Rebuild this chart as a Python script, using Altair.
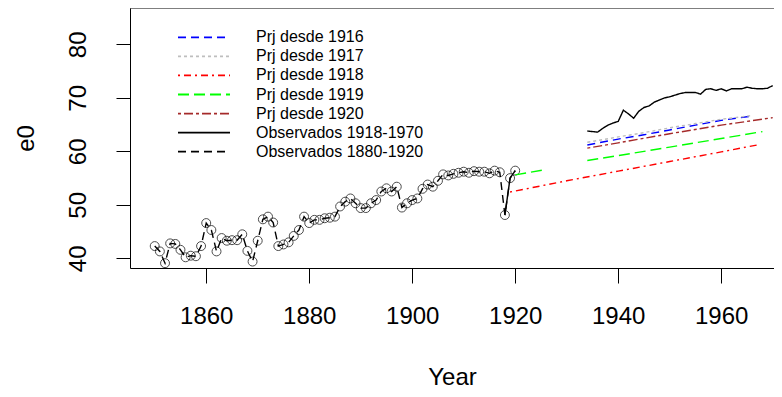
import altair as alt
import pandas as pd

FONT = "Liberation Sans, Arial, sans-serif"

# ---- data ----
obs_years = list(range(1850, 1921))
obs_e0 = [42.3, 41.3, 39.1, 42.8, 42.7, 41.6, 40.2, 40.5, 40.4, 42.3,
          46.6, 45.3, 41.3, 43.8, 43.3, 43.4, 43.4, 44.5, 41.4, 39.4,
          43.3, 47.3, 47.8, 46.7, 42.3, 42.6, 43.0, 44.2, 45.3, 47.8,
          46.6, 47.2, 47.2, 47.5, 47.6, 47.8, 49.7, 50.6, 51.2, 50.3,
          49.4, 49.4, 50.3, 50.9, 52.5, 53.1, 52.5, 53.4, 49.5, 50.3,
          50.9, 51.2, 53.0, 53.8, 53.4, 54.5, 55.7, 55.5, 55.8, 56.0,
          56.2, 56.0, 56.3, 56.2, 56.2, 55.9, 56.4, 56.1, 48.1, 55.0,
          56.4]

obs2_years_a = [1918, 1919, 1920]
obs2_e0_a = [48.1, 55.0, 56.4]
obs2_years_b = list(range(1934, 1971))
obs2_e0_b = [63.8, 63.7, 63.6, 64.3, 64.9, 65.3, 65.6, 67.7, 67.0, 66.2,
             67.5, 68.2, 68.5, 69.2, 69.6, 70.0, 70.2, 70.5, 70.8, 71.0,
             71.0, 71.0, 70.7, 71.6, 71.7, 71.4, 71.7, 71.3, 71.7, 71.7,
             71.7, 72.0, 71.8, 71.7, 71.7, 71.8, 72.3]

p1916_years = [1934, 1940, 1945, 1950, 1955, 1960, 1966]
p1916_e0 = [61.2, 62.3, 63.1, 64.0, 64.9, 65.8, 66.6]
p1917_years = [1934, 1940, 1945, 1950, 1955, 1960, 1966]
p1917_e0 = [61.7, 62.7, 63.5, 64.4, 65.2, 66.0, 66.7]
p1918_years = [1919, 1930, 1940, 1950, 1960, 1967]
p1918_e0 = [52.4, 54.5, 56.3, 58.1, 59.9, 61.2]
p1919_years_a = [1920, 1926]
p1919_e0_a = [55.6, 56.6]
p1919_years_b = [1934, 1940, 1950, 1960, 1968]
p1919_e0_b = [58.3, 59.2, 60.8, 62.4, 63.7]
p1920_years = [1934, 1940, 1950, 1960, 1970]
p1920_e0 = [60.6, 61.6, 63.3, 64.9, 66.3]

series_names = ["Prj desde 1916", "Prj desde 1917", "Prj desde 1918",
                "Prj desde 1919", "Prj desde 1920",
                "Observados 1918-1970", "Observados 1880-1920"]
series_colors = ["#0000FF", "#BEBEBE", "#FF0000", "#00FF00", "#A52A2A",
                 "#000000", "#000000"]
series_dashes = [[8, 5], [3, 3], [2, 4, 7, 4], [11, 5], [3, 3, 9, 3],
                 [1, 0], [8, 5]]

x_ticks = [1860, 1880, 1900, 1920, 1940, 1960]
y_ticks = [40, 50, 60, 70, 80]

# ---- long table ----
rows = []
def add(name, seg, years, vals):
    for yr, v in zip(years, vals):
        rows.append({"series": name, "seg": name + str(seg), "year": yr, "value": v})

add(series_names[0], 0, p1916_years, p1916_e0)
add(series_names[1], 0, p1917_years, p1917_e0)
add(series_names[2], 0, p1918_years, p1918_e0)
add(series_names[3], 0, p1919_years_a, p1919_e0_a)
add(series_names[3], 1, p1919_years_b, p1919_e0_b)
add(series_names[4], 0, p1920_years, p1920_e0)
add(series_names[5], 0, obs2_years_a, obs2_e0_a)
add(series_names[5], 1, obs2_years_b, obs2_e0_b)
add(series_names[6], 0, obs_years, obs_e0)
df_lines = pd.DataFrame(rows)
df_pts = pd.DataFrame({"year": obs_years, "value": obs_e0})

W, H = 644, 260
xscale = alt.Scale(domain=[1845.2, 1970.25], nice=False, zero=False)
yscale = alt.Scale(domain=[38.2, 86.8], nice=False, zero=False)

xaxis = alt.Axis(values=x_ticks, title="Year", format="d", grid=False,
                 labelFont=FONT, titleFont=FONT, labelFontSize=24, titleFontSize=24,
                 titleFontWeight="normal", labelColor="black", titleColor="black",
                 domainColor="black", tickColor="black", tickSize=15, labelPadding=21,
                 labelFlush=False, labelOverlap=False,
                 titleBaseline="alphabetic", titleY=116)
yaxis = alt.Axis(values=y_ticks, title="e0", grid=False,
                 labelFont=FONT, titleFont=FONT, labelFontSize=24, titleFontSize=24,
                 titleFontWeight="normal", labelColor="black", titleColor="black",
                 domainColor="black", tickColor="black", tickSize=14, labelPadding=26,
                 labelAngle=270, labelAlign="center", labelBaseline="bottom",
                 labelFlush=False, labelOverlap=False,
                 titleAngle=270, titleAlign="center", titleBaseline="alphabetic",
                 titleX=-97, titleY=130)

color_enc = alt.Color("series:N", scale=alt.Scale(domain=series_names, range=series_colors), legend=None)
dash_enc = alt.StrokeDash("series:N", scale=alt.Scale(domain=series_names, range=series_dashes), legend=None)

points = alt.Chart(df_pts).mark_point(shape="circle", filled=False, size=80,
                                      color="black", strokeWidth=1, clip=True).encode(
    x=alt.X("year:Q", scale=xscale, axis=xaxis),
    y=alt.Y("value:Q", scale=yscale, axis=yaxis),
)

lines = alt.Chart(df_lines).mark_line(strokeWidth=1.4, clip=True).encode(
    x=alt.X("year:Q", scale=xscale),
    y=alt.Y("value:Q", scale=yscale),
    color=color_enc,
    strokeDash=dash_enc,
    detail="seg:N",
    order="year:Q",
)

top_rule = alt.Chart(pd.DataFrame({"a": [0]})).mark_rule(color="black", strokeWidth=1).encode(
    x=alt.value(0), x2=alt.value(W), y=alt.value(0))

leg_y = alt.Y("series:N", scale=alt.Scale(type="point", domain=series_names,
                                          range=[29.3, 143.7], padding=0), axis=None)
leg_layers = []
for name, col, dash in zip(series_names, series_colors, series_dashes):
    one = pd.DataFrame({"series": [name]})
    leg_layers.append(
        alt.Chart(one).mark_rule(strokeWidth=1.8, color=col, strokeDash=dash).encode(
            x=alt.value(48), x2=alt.value(100), y=leg_y))
leg_text = alt.Chart(pd.DataFrame({"series": series_names})).mark_text(
    align="left", baseline="middle", fontSize=16, font=FONT, color="black").encode(
    x=alt.value(126), y=leg_y, text="series:N")

data_layer = alt.layer(points, lines, top_rule)
legend_layer = alt.layer(*leg_layers, leg_text)

chart = alt.layer(data_layer, legend_layer).resolve_scale(y="independent").properties(
    width=W, height=H,
    autosize=alt.AutoSizeParams(type="none"),
    padding={"left": 122, "top": 0, "right": 0, "bottom": 121},
).configure_view(stroke=None)

chart.save("out.html", embed_options={"renderer": "svg", "actions": False})
